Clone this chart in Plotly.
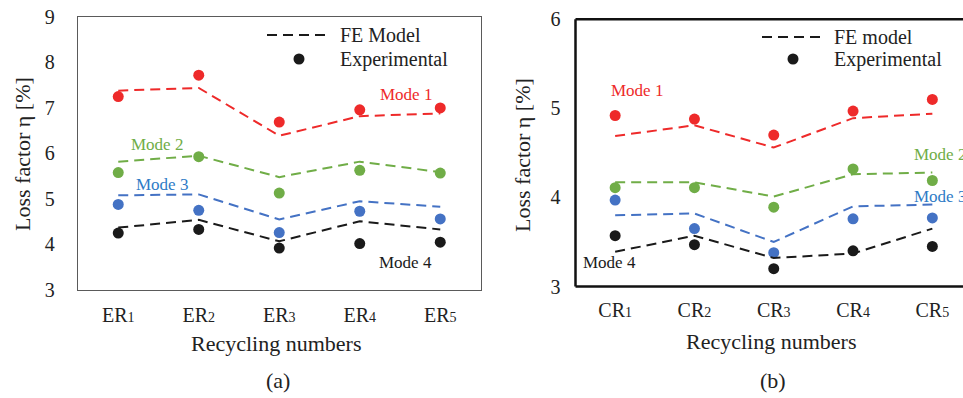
import plotly.graph_objects as go

W, H = 963, 398

cats_a = ["ER1", "ER2", "ER3", "ER4", "ER5"]
cats_b = ["CR1", "CR2", "CR3", "CR4", "CR5"]
ticks_a = ["ER<span style='font-size:14px'>%d</span>" % i for i in range(1, 6)]
ticks_b = ["CR<span style='font-size:14px'>%d</span>" % i for i in range(1, 6)]

# Panel (a)
m1_exp_a = [7.24, 7.71, 6.68, 6.95, 6.99]
m1_fe_a = [7.37, 7.43, 6.38, 6.81, 6.87]
m2_exp_a = [5.57, 5.92, 5.12, 5.62, 5.56]
m2_fe_a = [5.81, 5.94, 5.47, 5.81, 5.58]
m3_exp_a = [4.87, 4.74, 4.25, 4.72, 4.55]
m3_fe_a = [5.07, 5.09, 4.54, 4.94, 4.82]
m4_exp_a = [4.24, 4.32, 3.91, 4.01, 4.04]
m4_fe_a = [4.36, 4.53, 4.06, 4.50, 4.32]

# Panel (b)
m1_exp_b = [4.92, 4.88, 4.70, 4.97, 5.10]
m1_fe_b = [4.69, 4.81, 4.56, 4.89, 4.94]
m2_exp_b = [4.11, 4.11, 3.89, 4.32, 4.19]
m2_fe_b = [4.17, 4.17, 4.01, 4.26, 4.28]
m3_exp_b = [3.97, 3.65, 3.38, 3.76, 3.77]
m3_fe_b = [3.80, 3.82, 3.50, 3.90, 3.92]
m4_exp_b = [3.57, 3.47, 3.20, 3.40, 3.45]
m4_fe_b = [3.39, 3.57, 3.32, 3.37, 3.65]

RED = "#EE2A2A"
GREEN = "#70AD47"
BLUE = "#4472C4"
BLUE_TXT = "#2E7BC6"
BLACK = "#1A1A1A"
FONT = "Liberation Serif"


def px(x):
    return x / W


def py(y):
    return 1 - y / H


fig = go.Figure()

series_a = [(m1_exp_a, m1_fe_a, RED), (m2_exp_a, m2_fe_a, GREEN),
            (m3_exp_a, m3_fe_a, BLUE), (m4_exp_a, m4_fe_a, BLACK)]
series_b = [(m1_exp_b, m1_fe_b, RED), (m2_exp_b, m2_fe_b, GREEN),
            (m3_exp_b, m3_fe_b, BLUE), (m4_exp_b, m4_fe_b, BLACK)]

for (exp, fe, c) in series_a:
    fig.add_trace(go.Scatter(x=cats_a, y=fe, mode="lines", xaxis="x", yaxis="y",
                             line=dict(color=c, width=2, dash="10px,6px"), showlegend=False))
    fig.add_trace(go.Scatter(x=cats_a, y=exp, mode="markers", xaxis="x", yaxis="y",
                             marker=dict(color=c, size=11), showlegend=False))
for (exp, fe, c) in series_b:
    fig.add_trace(go.Scatter(x=cats_b, y=fe, mode="lines", xaxis="x2", yaxis="y2",
                             line=dict(color=c, width=2, dash="10px,6px"), showlegend=False))
    fig.add_trace(go.Scatter(x=cats_b, y=exp, mode="markers", xaxis="x2", yaxis="y2",
                             marker=dict(color=c, size=11), showlegend=False,
                             cliponaxis=False))

tickfont = dict(family=FONT, size=20, color="#222222")

# panel (b) plot area runs past the right edge of the picture
B_LEFT, B_STEP = 575.5, 79.3

fig.update_layout(
    width=W, height=H,
    margin=dict(l=0, r=0, t=0, b=0, autoexpand=False),
    paper_bgcolor="white", plot_bgcolor="rgba(0,0,0,0)",
    showlegend=False,
    font=dict(family=FONT, color="#222222"),
    xaxis=dict(domain=[px(78), px(480.5)], type="category", range=[-0.5, 4.5],
               tickvals=cats_a, ticktext=ticks_a, tickfont=tickfont, automargin=False,
               showline=True, linecolor="#5A5A5A", linewidth=1.3, mirror=True,
               showgrid=False, zeroline=False, ticks="", ticklabelstandoff=7),
    yaxis=dict(domain=[py(289.5), py(16.5)], range=[3, 9], dtick=1, automargin=False,
               tickfont=tickfont, showline=True, linecolor="#5A5A5A", linewidth=1.3,
               mirror=True, showgrid=False, zeroline=False, ticks="",
               ticklabelstandoff=18),
    xaxis2=dict(domain=[px(B_LEFT), px(B_LEFT) + 0.99 * (1 - px(B_LEFT))], type="category",
                range=[-0.5, -0.5 + (0.99 * (W - B_LEFT)) / B_STEP],
                tickvals=cats_b, ticktext=ticks_b, tickfont=tickfont, anchor="y2",
                automargin=False, showline=False,
                showgrid=False, zeroline=False, ticks="", ticklabelstandoff=9),
    yaxis2=dict(domain=[py(286.5), py(19.3)], range=[3, 6], dtick=1, anchor="x2",
                automargin=False, showline=False,
                tickfont=tickfont, showgrid=False, zeroline=False, ticks="",
                ticklabelstandoff=14),
)

annots = []


def ann(text, x, y, size, color="#222222", xanchor="center", angle=0):
    annots.append(dict(text=text, x=px(x), y=py(y), xref="paper", yref="paper",
                       showarrow=False, xanchor=xanchor, yanchor="middle",
                       textangle=angle, font=dict(family=FONT, size=size, color=color)))


# axis titles / captions
ann("Recycling numbers", 275.5, 343, 22)
ann("(a)", 278, 380, 22)
ann("Recycling numbers", 771, 341, 22)
ann("(b)", 773, 380, 22)
ann("Loss factor η [%]", 22, 154, 22, angle=-90)
ann("Loss factor η [%]", 522, 155, 22, angle=-90)

# mode labels panel a
ann("Mode 1", 405.5, 94.5, 17, RED)
ann("Mode 2", 156.5, 144, 17, GREEN)
ann("Mode 3", 161.5, 184.5, 17, BLUE_TXT)
ann("Mode 4", 405, 262, 17, BLACK)
# mode labels panel b
ann("Mode 1", 636.5, 91, 17, RED)
ann("Mode 2", 911.5, 154.5, 17, GREEN, xanchor="left")
ann("Mode 3", 912, 196, 17, BLUE_TXT, xanchor="left")
ann("Mode 4", 609, 262, 17, BLACK)

# legends
ann("FE Model", 338, 35, 20, xanchor="left")
ann("Experimental", 338, 59, 20, xanchor="left")
ann("FE model", 832, 37, 20, xanchor="left")
ann("Experimental", 832, 59, 20, xanchor="left")

fig.update_layout(annotations=annots)

shapes = []
# frame of panel (b): left, top, bottom (right border lies outside the picture)
frame = dict(color="#111111", width=2.5)
shapes.append(dict(type="line", xref="paper", yref="y2 domain", x0=px(B_LEFT), x1=1.0,
                   y0=1, y1=1, line=frame))
shapes.append(dict(type="line", xref="paper", yref="y2 domain", x0=px(B_LEFT), x1=1.0,
                   y0=0, y1=0, line=frame))
shapes.append(dict(type="line", xref="paper", yref="y2 domain", x0=px(B_LEFT), x1=px(B_LEFT),
                   y0=0, y1=1, line=frame))
for (x0, x1, y, mx, my) in [(267, 328, 35, 299, 59), (762, 823, 37, 793, 59)]:
    shapes.append(dict(type="line", xref="paper", yref="paper", x0=px(x0), x1=px(x1),
                       y0=py(y), y1=py(y), line=dict(color=BLACK, width=2, dash="10px,6px")))
    r = 5.5
    shapes.append(dict(type="circle", xref="paper", yref="paper",
                       x0=px(mx - r), x1=px(mx + r), y0=py(my + r), y1=py(my - r),
                       fillcolor=BLACK, line=dict(color=BLACK, width=0)))
fig.update_layout(shapes=shapes)

fig.write_html("out.html")
